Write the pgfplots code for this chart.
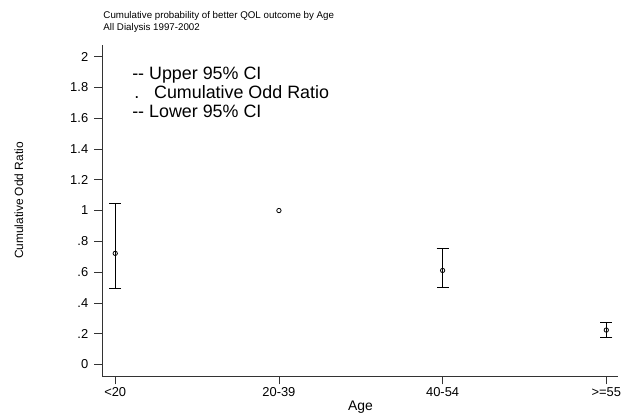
\documentclass[border=0pt]{standalone}
\usepackage{fontspec}
\setmainfont{Liberation Sans}
\usepackage{pgfplots}
\pgfplotsset{compat=1.18}

\definecolor{axisgray}{gray}{0.2}

\pgfplotstableread{
x y ep em
0 0.722 0.325 0.227
2 0.611 0.142 0.110
3 0.224 0.049 0.050
}\ortable

\begin{document}
\begin{tikzpicture}
\begin{axis}[
  at={(0,0)}, anchor=south west,
  scale only axis,
  width=519pt, height=334pt,
  xmin=-0.079, xmax=3.07,
  ymin=-0.077, ymax=2.077,
  axis x line=bottom, axis y line=left,
  axis line style={-, axisgray, line width=0.8pt},
  tick align=outside,
  major tick length=8pt,
  tick style={axisgray, line width=0.8pt},
  xtick={0,1,2,3},
  xticklabels={<20,20-39,40-54,>=55},
  ytick={0,0.2,0.4,0.6,0.8,1,1.2,1.4,1.6,1.8,2},
  yticklabels={0,.2,.4,.6,.8,1,1.2,1.4,1.6,1.8,2},
  xticklabel style={font=\fontsize{13}{13}\selectfont, inner sep=3pt},
  yticklabel style={font=\fontsize{13}{13}\selectfont, inner sep=6pt},
  /pgf/number format/assume math mode=true,
  clip=false,
]
\addplot[only marks, mark=o, mark size=2.2pt, black, mark options={line width=0.8pt},
  error bars/.cd, y dir=both, y explicit,
  error mark=-, error mark options={black, mark size=6pt, line width=0.8pt, rotate=90},
  error bar style={black, line width=0.8pt}]
  table[x=x, y=y, y error plus=ep, y error minus=em] {\ortable};
\addplot[only marks, mark=o, mark size=2.2pt, black, mark options={line width=0.8pt}]
  coordinates {(1,1.0)};
\end{axis}
% titles and labels, 1pt = 1px, origin at axis corner (103,379)
\node[anchor=base west, inner sep=0pt, font=\fontsize{9.8}{9.8}\selectfont] at (1pt,360pt) {Cumulative probability of better QOL outcome by Age};
\node[anchor=base west, inner sep=0pt, font=\fontsize{9.8}{9.8}\selectfont] at (1pt,348.5pt) {All Dialysis 1997-2002};
\node[anchor=base west, inner sep=0pt, font=\fontsize{18}{18}\selectfont] at (30pt,299pt) {{-}{-} Upper 95\% CI};
\node[anchor=base west, inner sep=0pt, font=\fontsize{18}{18}\selectfont] at (32pt,279.5pt) {.};
\node[anchor=base west, inner sep=0pt, font=\fontsize{18}{18}\selectfont] at (52pt,279.5pt) {Cumulative Odd Ratio};
\node[anchor=base west, inner sep=0pt, font=\fontsize{18}{18}\selectfont] at (30pt,260.5pt) {{-}{-} Lower 95\% CI};
\node[rotate=90, inner sep=0pt, font=\fontsize{12}{12}\selectfont] at (-84pt,177pt) {Cumulative Odd Ratio};
\node[anchor=base, inner sep=0pt, font=\fontsize{14}{14}\selectfont] at (260pt,-34pt) {Age};
\path[use as bounding box] (-103pt,-40pt) rectangle (521pt,379pt);
\end{tikzpicture}
\end{document}
